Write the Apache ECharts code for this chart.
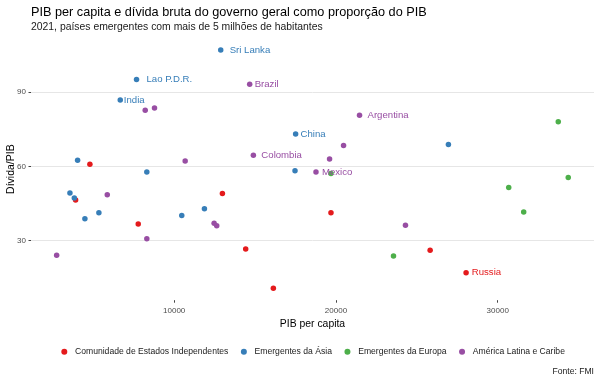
<!DOCTYPE html>
<html>
<head>
<meta charset="utf-8">
<script src="https://cdn.jsdelivr.net/npm/echarts@6/dist/echarts.min.js"></script>
<style>
html,body{margin:0;padding:0;background:#fff;}
#chart{width:600px;height:382px;}
</style>
</head>
<body>
<div id="chart"></div>
<script>
// ---- data ----
const categories = ['Comunidade de Estados Independentes', 'Emergentes da Ásia', 'Emergentes da Europa', 'América Latina e Caribe'];
// [PIB per capita, Dívida/PIB, rótulo]
const cisPoints = [
  [4790, 60.9, ''], [3907, 46.4, ''], [7778, 36.7, ''], [12981, 49.0, ''], [19691, 41.3, ''],
  [14420, 26.7, ''], [16130, 10.8, ''], [25821, 26.1, ''], [28043, 17.1, 'Russia']
];
const asiaPoints = [
  [12877, 107.0, 'Sri Lanka'], [7673, 95.1, 'Lao P.D.R.'], [6667, 86.8, 'India'], [17506, 73.1, 'China'],
  [4031, 62.5, ''], [8309, 57.7, ''], [17469, 58.2, ''], [3556, 49.3, ''], [3827, 47.2, ''],
  [5346, 41.3, ''], [4481, 38.9, ''], [10469, 40.2, ''], [11870, 42.9, ''], [26951, 68.8, '']
];
const europePoints = [
  [33741, 78.0, ''], [34358, 55.5, ''], [30679, 51.5, ''], [31605, 41.6, ''], [23556, 23.8, ''], [19691, 57.1, '']
];
const latamPoints = [
  [14667, 93.1, 'Brazil'], [21457, 80.6, 'Argentina'], [14895, 64.5, 'Colombia'], [18765, 57.7, 'Mexico'],
  [8210, 82.6, ''], [8784, 83.6, ''], [10679, 62.2, ''], [20469, 68.4, ''], [19605, 63.0, ''],
  [5864, 48.5, ''], [8309, 30.8, ''], [2735, 24.1, ''], [12469, 37.0, ''], [12630, 36.0, ''], [24296, 36.2, '']
];
const xTicks = [10000, 20000, 30000];
const yTicks = [30, 60, 90];

// ---- styling ----
const FONT = '"Liberation Sans", Arial, sans-serif';
const colors = ['#E41A1C', '#377EB8', '#4DAF4A', '#984EA3'];
const SYM = 5.5;
const labelGap = {'Sri Lanka': 9, 'Lao P.D.R.': 10, 'India': 3.6, 'Brazil': 5, 'Argentina': 8,
  'China': 5, 'Colombia': 8, 'Mexico': 6, 'Russia': 5.7};

function toData(points) {
  return points.map(p => {
    const item = {value: [p[0], p[1]], name: p[2]};
    if (p[2]) {
      item.label = {show: true, distance: Math.max(0, labelGap[p[2]] - SYM / 2)};
    }
    return item;
  });
}
const groups = [cisPoints, asiaPoints, europePoints, latamPoints];

const chart = echarts.init(document.getElementById('chart'), null, {renderer: 'canvas'});
chart.setOption({
  animation: false,
  textStyle: {fontFamily: FONT},
  color: colors,
  title: [
    {text: 'PIB per capita e dívida bruta do governo geral como proporção do PIB', left: 31, top: 5, padding: 0,
      textStyle: {fontFamily: FONT, fontSize: 12.7, fontWeight: 'normal', color: '#000', lineHeight: 15}},
    {text: '2021, países emergentes com mais de 5 milhões de habitantes', left: 31, top: 20.7, padding: 0,
      textStyle: {fontFamily: FONT, fontSize: 10.4, fontWeight: 'normal', color: '#1a1a1a', lineHeight: 12}},
    {text: 'Fonte: FMI', right: 6, top: 366.2, padding: 0,
      textStyle: {fontFamily: FONT, fontSize: 8.6, fontWeight: 'normal', color: '#1a1a1a', lineHeight: 11}}
  ],
  grid: {left: 31, right: 6, top: 38, bottom: 81.8, containLabel: false, outerBoundsMode: 'none'},
  legend: {
    data: categories,
    left: 61.3, top: 346.7, padding: 0,
    icon: 'circle', itemWidth: 11.4, itemHeight: 6, itemGap: 12.5,
    textStyle: {fontFamily: FONT, fontSize: 8.6, color: '#1a1a1a', lineHeight: 10}
  },
  xAxis: {
    type: 'value', min: 1150, max: 35950,
    name: 'PIB per capita', nameLocation: 'middle', nameGap: 18.5, nameMoveOverlap: false,
    nameTextStyle: {fontFamily: FONT, fontSize: 10.4, color: '#000'},
    axisLine: {show: false},
    axisTick: {show: true, length: 2.5, customValues: xTicks, lineStyle: {color: '#444', width: 1}},
    axisLabel: {customValues: xTicks, margin: 6.5, fontSize: 8, color: '#4D4D4D', fontFamily: FONT,
      formatter: v => String(v)},
    splitLine: {show: false}
  },
  yAxis: {
    type: 'value', min: 5.99, max: 111.8,
    name: 'Dívida/PIB', nameLocation: 'middle', nameGap: 14, nameMoveOverlap: false,
    nameTextStyle: {fontFamily: FONT, fontSize: 10.5, color: '#000'},
    axisLine: {show: false},
    axisTick: {show: true, length: 2.5, customValues: yTicks, lineStyle: {color: '#444', width: 1}},
    axisLabel: {customValues: yTicks, margin: 5, fontSize: 8, color: '#4D4D4D', fontFamily: FONT,
      formatter: v => String(v)},
    splitLine: {show: true, lineStyle: {color: '#E6E6E6', width: 1}}
  },
  series: groups.map((g, i) => ({
    name: categories[i],
    type: 'scatter',
    symbolSize: SYM,
    itemStyle: {color: colors[i], opacity: 1},
    label: {show: false, position: 'right', formatter: '{b}', fontFamily: FONT, fontSize: 9.6, color: colors[i]},
    emphasis: {disabled: true},
    data: toData(g)
  }))
});
</script>
</body>
</html>
